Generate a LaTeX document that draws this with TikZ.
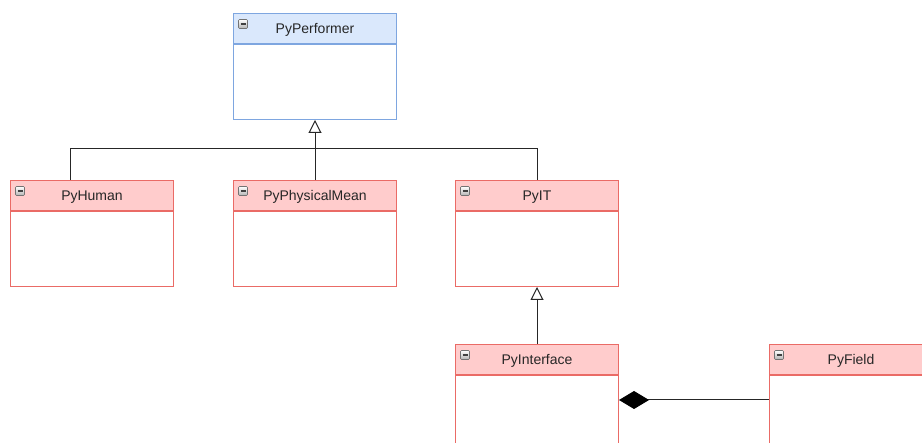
\documentclass[tikz,border=0pt]{standalone}
\usepackage{fontspec}
\setmainfont{Liberation Sans}
\usepackage{tikz}
\usetikzlibrary{arrows.meta}
\usetikzlibrary{positioning}

\definecolor{blueline}{HTML}{7EA6E0}
\definecolor{bluefill}{HTML}{DAE8FC}
\definecolor{redline}{HTML}{EA6B66}
\definecolor{redfill}{HTML}{FFCCCC}

\tikzset{
  head/.style={draw, line width=1pt, minimum width=163pt, minimum height=30pt,
    inner sep=0pt, anchor=north west, text=black!85, text height=11pt, text depth=1pt,
    font=\fontsize{14}{16}\selectfont},
  body/.style={draw, line width=1pt, minimum width=163pt, minimum height=75pt,
    inner sep=0pt, fill=white},
  blueclass/.style={draw=blueline, fill=bluefill},
  pinkclass/.style={draw=redline, fill=redfill},
  blueedge/.style={draw=blueline},
  pinkedge/.style={draw=redline},
  icon/.style={draw=black!55, line width=0.6pt, rounded corners=1pt,
    minimum size=9pt, inner sep=0pt, top color=white, bottom color=black!30,
    path picture={\draw[line width=1.3pt, black!75]
      ([xshift=2pt]path picture bounding box.west) --
      ([xshift=-2pt]path picture bounding box.east);}},
  wire/.style={draw=black!85, line width=1pt},
  gen/.style={wire, -{Triangle[open, length=13pt, width=13pt]}},
  comp/.style={wire, {Diamond[length=30pt, width=18pt, fill=black, color=black]}-}
}

\begin{document}
\begin{tikzpicture}[x=1pt, y=-1pt]
	\useasboundingbox (0,0) rectangle (922,443);
	\clip (0,0) rectangle (922,443);
	% classes
	\node[head, blueclass] (perfh) at (233,13) {PyPerformer};
	\node[body, blueedge, below=0pt of perfh] (perfb) {};
	\node[head, pinkclass] (humanh) at (10,180) {PyHuman};
	\node[body, pinkedge, below=0pt of humanh] (humanb) {};
	\node[head, pinkclass] (physh) at (233,180) {PyPhysicalMean};
	\node[body, pinkedge, below=0pt of physh] (physb) {};
	\node[head, pinkclass] (ith) at (455,180) {PyIT};
	\node[body, pinkedge, below=0pt of ith] (itb) {};
	\node[head, pinkclass] (ifaceh) at (455,344) {PyInterface};
	\node[body, pinkedge, below=0pt of ifaceh] (ifaceb) {};
	\node[head, pinkclass] (fieldh) at (769,344) {PyField};
	\node[body, pinkedge, below=0pt of fieldh] (fieldb) {};
	\foreach \c in {perfh,humanh,physh,ith,ifaceh,fieldh}
		\node[icon] at ([shift={(10,11)}]\c.north west) {};
	% connectors
	\coordinate (join) at (314.5,148.5);
	\coordinate (agg) at (700,400);
	\draw[gen] (physh.north) -- (perfb.south);
	\draw[wire] ([xshift=-22pt]humanh.north) |- (join) -| (ith.north);
	\draw[gen] (ifaceh.north) -- (itb.south);
	\draw[comp] (ifaceb.east |- agg) -- (fieldb.west |- agg);
\end{tikzpicture}
\end{document}
